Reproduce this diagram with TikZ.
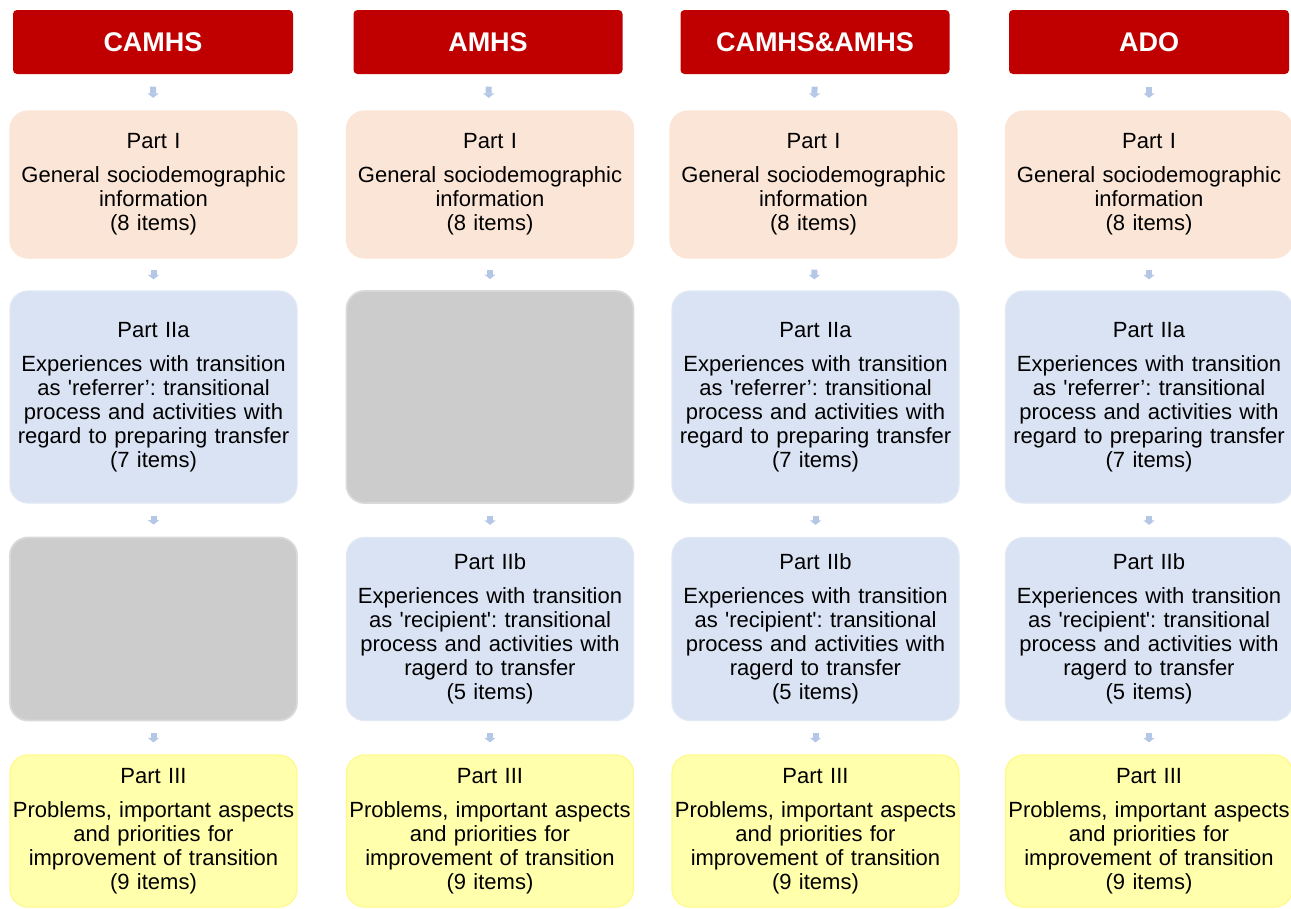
\documentclass[tikz,border=0pt]{standalone}
\usepackage{fontspec}
\setmainfont{Liberation Sans}
\usetikzlibrary{arrows.meta,positioning}

\definecolor{hdrred}{RGB}{192,0,0}
\definecolor{peach}{RGB}{251,229,214}
\definecolor{paleblue}{RGB}{218,227,243}
\definecolor{greybox}{RGB}{204,204,204}
\definecolor{paleyellow}{RGB}{255,255,172}
\definecolor{arrblue}{RGB}{180,199,231}

\tikzset{
  head/.style={fill=hdrred, rounded corners=4pt, minimum width=280pt, minimum height=64pt,
    inner sep=0pt, text=white, font=\fontsize{27}{30}\selectfont\bfseries},
  partbox/.style={rounded corners=18pt, text width=284pt, inner xsep=1.5pt, inner ysep=0pt,
    align=center, font=\fontsize{22}{24}\selectfont\frenchspacing, line width=1.2pt},
  partone/.style={partbox, fill=peach, draw=peach, minimum height=147pt},
  parttwoa/.style={partbox, fill=paleblue, draw=paleblue!80!white, minimum height=212pt},
  parttwob/.style={partbox, fill=paleblue, draw=paleblue!80!white, minimum height=183pt},
  empty/.style={partbox, fill=greybox, draw=greybox!75!white, line width=1.8pt},
  partthree/.style={partbox, fill=paleyellow, draw=yellow!45!white, minimum height=152pt},
  arr/.style={draw=arrblue, line width=6pt, -{Triangle[width=11pt,length=4.5pt]},
    shorten <=#1, shorten >=#1}
}

\newcommand{\pone}{Part I\\[10pt]General sociodemographic\\information\\(8 items)}
\newcommand{\ptwoa}{Part IIa\\[10pt]Experiences with transition\\as \textquotesingle referrer’: transitional\\process and activities with\\regard to preparing transfer\\(7 items)}
\newcommand{\ptwob}{Part IIb\\[10pt]Experiences with transition\\as \textquotesingle recipient\textquotesingle: transitional\\process and activities with\\ragerd to transfer\\(5 items)}
\newcommand{\pthree}{Part III\\[10pt]Problems, important aspects\\and priorities for\\improvement of transition\\(9 items)}

\begin{document}
\begin{tikzpicture}[x=1pt,y=-1pt]
\useasboundingbox (0,0) rectangle (1291,908);

% headers
\node[head] (hA) at (153,42) {CAMHS};
\node[head, minimum width=269pt] (hB) at (488,42) {AMHS};
\node[head, minimum width=269pt] (hC) at (815,42) {CAMHS\&AMHS};
\node[head] (hD) at (1149,42) {ADO};

% part I
\node[partone] (oneA) at (153.5,184.5) {\pone};
\node[partone] (oneB) at (490,184.5) {\pone};
\node[partone] (oneC) at (813.5,184.5) {\pone};
\node[partone] (oneD) at (1149,184.5) {\pone};

% part IIa
\node[parttwoa] (twaA) at (153.5,397) {\ptwoa};
\node[empty, minimum height=212pt] (twaB) at (490,397) {};
\node[parttwoa] (twaC) at (815.5,397) {\ptwoa};
\node[parttwoa] (twaD) at (1149,397) {\ptwoa};

% part IIb
\node[empty, minimum height=183pt] (twbA) at (153.5,629) {};
\node[parttwob] (twbB) at (490,629) {\ptwob};
\node[parttwob] (twbC) at (815.5,629) {\ptwob};
\node[parttwob] (twbD) at (1149,629) {\ptwob};

% part III
\node[partthree] (thrA) at (153.5,831) {\pthree};
\node[partthree] (thrB) at (490,831) {\pthree};
\node[partthree] (thrC) at (815.5,831) {\pthree};
\node[partthree] (thrD) at (1149,831) {\pthree};

% arrows
\foreach \c in {A,B,C,D}{
  \draw[arr=12.5pt] (h\c) -- (one\c);
  \draw[arr=11pt] (one\c) -- (twa\c);
  \draw[arr=12pt] (twa\c) -- (twb\c);
  \draw[arr=12pt] (twb\c) -- (thr\c);
}
\end{tikzpicture}
\end{document}
